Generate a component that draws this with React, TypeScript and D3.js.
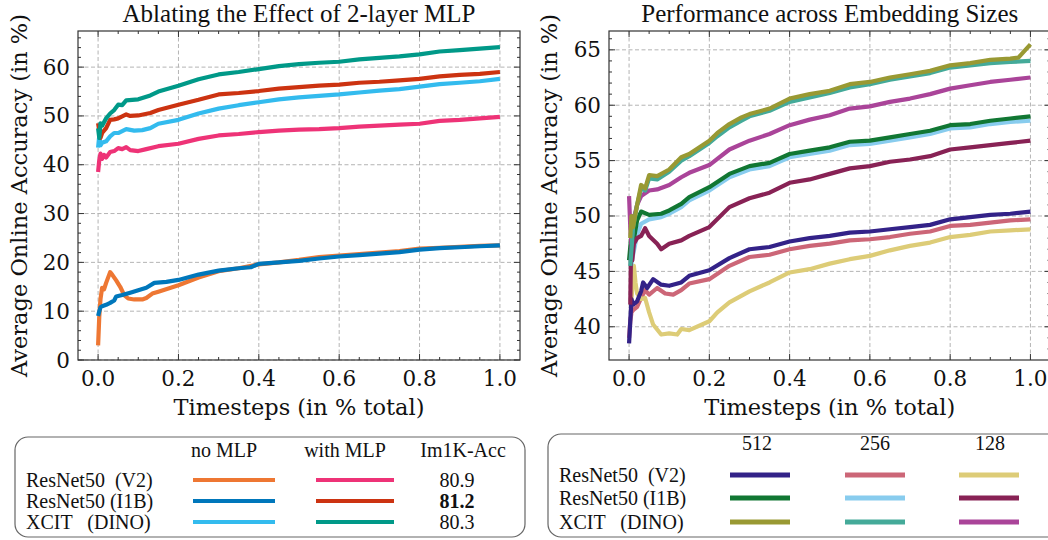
import React from "react";
import * as d3 from "d3";

type Pt = [number, number];

// ---------- Left panel: Ablating the Effect of 2-layer MLP ----------
const v2NoMlp: Pt[] = [[0,3],[0.003,9],[0.006,12.5],[0.01,14.8],[0.015,14.5],[0.02,15.8],[0.03,18],[0.035,17.5],[0.045,16.3],[0.055,15],[0.065,13.3],[0.075,12.6],[0.09,12.4],[0.11,12.4],[0.12,12.7],[0.135,13.6],[0.15,14],[0.2,15.3],[0.25,16.9],[0.3,18.2],[0.35,18.8],[0.4,19.6],[0.45,20],[0.5,20.5],[0.55,21.1],[0.6,21.4],[0.65,21.7],[0.7,22],[0.75,22.3],[0.8,22.8],[0.85,23],[0.9,23.2],[0.95,23.4],[1,23.5]];
const i1bNoMlp: Pt[] = [[0,9],[0.003,10],[0.006,10.8],[0.01,11],[0.02,11.3],[0.03,11.7],[0.04,12.2],[0.045,13],[0.06,13.3],[0.08,13.8],[0.1,14.3],[0.12,14.8],[0.14,15.8],[0.17,16],[0.2,16.4],[0.25,17.5],[0.3,18.3],[0.35,18.8],[0.38,19],[0.4,19.7],[0.45,20],[0.5,20.3],[0.55,20.8],[0.6,21.2],[0.65,21.5],[0.7,21.8],[0.75,22.1],[0.8,22.6],[0.85,22.9],[0.9,23.1],[0.95,23.3],[1,23.5]];
const xcitNoMlp: Pt[] = [[0,43.5],[0.003,46],[0.006,44],[0.01,44.5],[0.02,44.8],[0.03,45.8],[0.04,46.5],[0.05,46.5],[0.07,47.3],[0.09,47],[0.11,47.1],[0.13,47.5],[0.15,48.4],[0.2,49.2],[0.25,50.5],[0.3,51.5],[0.35,52.2],[0.4,52.8],[0.45,53.4],[0.5,53.8],[0.55,54.1],[0.6,54.4],[0.65,54.8],[0.7,55.2],[0.75,55.5],[0.8,56],[0.85,56.5],[0.9,56.8],[0.95,57.1],[1,57.6]];
const v2Mlp: Pt[] = [[0,38.5],[0.003,41],[0.006,42.3],[0.01,41.2],[0.015,42],[0.02,41.5],[0.03,42.6],[0.04,42.8],[0.05,43.4],[0.06,43.2],[0.07,43.6],[0.08,43],[0.1,42.8],[0.12,43.2],[0.15,43.8],[0.2,44.3],[0.25,45.3],[0.3,46],[0.35,46.3],[0.4,46.7],[0.45,47],[0.5,47.2],[0.55,47.3],[0.6,47.5],[0.65,47.8],[0.7,48],[0.75,48.2],[0.8,48.4],[0.85,49],[0.9,49.2],[0.95,49.5],[1,49.8]];
const i1bMlp: Pt[] = [[0,48.5],[0.003,47],[0.006,45.5],[0.01,46.5],[0.02,47.5],[0.03,49.2],[0.04,49.3],[0.05,49.5],[0.07,50.3],[0.08,50],[0.1,50.1],[0.13,50.6],[0.15,51.2],[0.2,52.3],[0.25,53.3],[0.3,54.4],[0.35,54.7],[0.4,55.1],[0.45,55.6],[0.5,55.9],[0.55,56.2],[0.6,56.4],[0.65,56.8],[0.7,57],[0.75,57.3],[0.8,57.6],[0.85,58.1],[0.9,58.4],[0.95,58.6],[1,59]];
const xcitMlp: Pt[] = [[0,47.5],[0.003,45.5],[0.006,48.5],[0.01,48],[0.02,49.5],[0.03,50.5],[0.04,51.2],[0.05,52.3],[0.06,52.2],[0.07,53.2],[0.1,53.4],[0.13,54.2],[0.15,55],[0.2,56.2],[0.25,57.5],[0.3,58.5],[0.35,59],[0.4,59.6],[0.45,60.2],[0.5,60.6],[0.55,60.9],[0.6,61.1],[0.65,61.6],[0.7,61.9],[0.75,62.2],[0.8,62.6],[0.85,63.2],[0.9,63.5],[0.95,63.8],[1,64.1]];

// ---------- Right panel: Performance across Embedding Sizes ----------
const v2_512: Pt[] = [[0,38.5],[0.003,40.5],[0.006,42.5],[0.01,42],[0.02,42.3],[0.03,43.2],[0.035,44],[0.045,43.5],[0.06,44.3],[0.08,43.8],[0.1,43.7],[0.13,44],[0.15,44.6],[0.2,45.1],[0.25,46.2],[0.3,47],[0.35,47.2],[0.4,47.7],[0.45,48],[0.5,48.2],[0.55,48.5],[0.6,48.6],[0.65,48.8],[0.7,49],[0.75,49.2],[0.8,49.7],[0.85,49.9],[0.9,50.1],[0.95,50.2],[1,50.4]];
const v2_256: Pt[] = [[0,39],[0.003,40.5],[0.006,41.3],[0.01,41.5],[0.02,41.8],[0.03,42.6],[0.04,43.3],[0.05,42.9],[0.07,43.5],[0.09,43],[0.11,42.9],[0.13,43.3],[0.15,43.9],[0.2,44.3],[0.25,45.5],[0.3,46.3],[0.35,46.5],[0.4,47],[0.45,47.3],[0.5,47.5],[0.55,47.8],[0.6,47.9],[0.65,48.1],[0.7,48.4],[0.75,48.6],[0.8,49.1],[0.85,49.2],[0.9,49.4],[0.95,49.6],[1,49.7]];
const v2_128: Pt[] = [[0.005,42],[0.012,45.5],[0.016,44],[0.02,43],[0.03,42.5],[0.04,42.6],[0.05,41.3],[0.06,40.2],[0.08,39.3],[0.1,39.4],[0.12,39.3],[0.13,39.8],[0.15,39.7],[0.2,40.5],[0.22,41.3],[0.25,42.2],[0.3,43.2],[0.35,44],[0.4,44.9],[0.45,45.2],[0.5,45.7],[0.55,46.1],[0.6,46.4],[0.65,46.9],[0.7,47.3],[0.75,47.6],[0.8,48.1],[0.85,48.3],[0.9,48.6],[0.95,48.7],[1,48.8]];
const i1b_512: Pt[] = [[0,46],[0.005,48],[0.01,47.5],[0.02,49.6],[0.03,50.4],[0.05,50.1],[0.08,50.2],[0.1,50.5],[0.13,51.1],[0.15,51.7],[0.2,52.6],[0.25,53.8],[0.3,54.5],[0.35,54.8],[0.4,55.6],[0.45,55.9],[0.5,56.2],[0.55,56.7],[0.6,56.8],[0.65,57.1],[0.7,57.4],[0.75,57.7],[0.8,58.2],[0.85,58.3],[0.9,58.6],[0.95,58.8],[1,59]];
const i1b_256: Pt[] = [[0.005,45.5],[0.01,46.5],[0.02,48.3],[0.03,49.3],[0.05,49.7],[0.08,49.9],[0.1,50.2],[0.13,50.8],[0.15,51.4],[0.2,52.3],[0.25,53.5],[0.3,54.2],[0.35,54.5],[0.4,55.3],[0.45,55.6],[0.5,55.9],[0.55,56.4],[0.6,56.5],[0.65,56.8],[0.7,57.1],[0.75,57.4],[0.8,57.9],[0.85,58],[0.9,58.3],[0.95,58.5],[1,58.6]];
const i1b_128: Pt[] = [[0.003,42],[0.006,50],[0.008,46],[0.012,47.5],[0.02,48],[0.03,48.2],[0.04,48.9],[0.05,48.2],[0.07,47.5],[0.08,47],[0.1,47.5],[0.13,47.8],[0.15,48.2],[0.2,49],[0.25,50.8],[0.3,51.6],[0.35,52.1],[0.4,53],[0.45,53.3],[0.5,53.8],[0.55,54.3],[0.6,54.5],[0.65,54.9],[0.7,55.1],[0.75,55.4],[0.8,56],[0.85,56.2],[0.9,56.4],[0.95,56.6],[1,56.8]];
const xcit_512: Pt[] = [[0.003,48],[0.006,50],[0.01,49],[0.02,51],[0.03,52.8],[0.04,52.5],[0.05,53.7],[0.07,53.6],[0.1,54.2],[0.13,55.3],[0.15,55.6],[0.2,56.8],[0.22,57.5],[0.25,58.3],[0.28,58.9],[0.3,59.2],[0.35,59.7],[0.4,60.6],[0.45,61],[0.5,61.3],[0.55,61.9],[0.6,62.1],[0.65,62.5],[0.7,62.8],[0.75,63.1],[0.8,63.6],[0.85,63.8],[0.9,64.1],[0.95,64.2],[0.97,64.3],[1,65.5]];
const xcit_256: Pt[] = [[0.003,45.5],[0.006,47],[0.01,49],[0.02,51],[0.03,52.5],[0.04,52.3],[0.05,53.4],[0.07,53.3],[0.1,54],[0.13,55],[0.15,55.4],[0.2,56.6],[0.22,57.2],[0.25,58],[0.28,58.6],[0.3,59],[0.35,59.5],[0.4,60.3],[0.45,60.7],[0.5,61.1],[0.55,61.6],[0.6,61.9],[0.65,62.3],[0.7,62.6],[0.75,62.9],[0.8,63.4],[0.85,63.6],[0.9,63.8],[0.95,63.9],[1,64]];
const xcit_128: Pt[] = [[0,51.8],[0.003,49],[0.006,47.5],[0.01,49.5],[0.02,51],[0.03,51.8],[0.05,52.3],[0.07,52.4],[0.1,52.8],[0.13,53.5],[0.15,53.9],[0.2,54.6],[0.25,56],[0.3,56.8],[0.35,57.4],[0.4,58.2],[0.45,58.7],[0.5,59.1],[0.55,59.7],[0.6,59.9],[0.65,60.3],[0.7,60.6],[0.75,61],[0.8,61.5],[0.85,61.8],[0.9,62.1],[0.95,62.3],[1,62.5]];

const xTicks = [0, 0.2, 0.4, 0.6, 0.8, 1.0];
const leftYTicks = [0, 10, 20, 30, 40, 50, 60];
const rightYTicks = [40, 45, 50, 55, 60, 65];

const leftTitle = "Ablating the Effect of 2-layer MLP";
const rightTitle = "Performance across Embedding Sizes";
const xLabel = "Timesteps (in % total)";
const yLabel = "Average Online Accuracy (in %)";

const rowNames = ["ResNet50  (V2)", "ResNet50 (I1B)", "XCIT   (DINO)"];
const leftHeaders = ["no MLP", "with MLP", "Im1K-Acc"];
const im1kAcc = ["80.9", "81.2", "80.3"];
const rightHeaders = ["512", "256", "128"];

const leftColorsNo = ["#EE7733", "#0077BB", "#33BBEE"];
const leftColorsMlp = ["#EE3377", "#CC3311", "#009988"];
const rightColors = [
  ["#332288", "#CC6677", "#DDCC77"],
  ["#117733", "#88CCEE", "#882255"],
  ["#999933", "#44AA99", "#AA4499"],
];

const leftSeries = [
  { d: v2NoMlp, c: leftColorsNo[0] },
  { d: i1bNoMlp, c: leftColorsNo[1] },
  { d: xcitNoMlp, c: leftColorsNo[2] },
  { d: v2Mlp, c: leftColorsMlp[0] },
  { d: i1bMlp, c: leftColorsMlp[1] },
  { d: xcitMlp, c: leftColorsMlp[2] },
];
const rightSeries = [
  { d: v2_256, c: rightColors[0][1] },
  { d: v2_128, c: rightColors[0][2] },
  { d: v2_512, c: rightColors[0][0] },
  { d: i1b_256, c: rightColors[1][1] },
  { d: i1b_512, c: rightColors[1][0] },
  { d: i1b_128, c: rightColors[1][2] },
  { d: xcit_128, c: rightColors[2][2] },
  { d: xcit_256, c: rightColors[2][1] },
  { d: xcit_512, c: rightColors[2][0] },
];

const SERIF_T = "'Liberation Serif', 'Times New Roman', serif";
const SERIF_D = "'DejaVu Serif', serif";
const SPINE = "#333";

type PanelProps = {
  id: string;
  x0: number; x1: number; yTop: number; yBot: number;
  yDomain: [number, number];
  yTicks: number[];
  yMinorStep: number;
  title: string;
  series: { d: Pt[]; c: string }[];
  yLabelX: number;
};

function Panel(p: PanelProps) {
  const xs = d3.scaleLinear().domain([-0.05, 1.05]).range([p.x0, p.x1]);
  const ys = d3.scaleLinear().domain(p.yDomain).range([p.yBot, p.yTop]);
  const line = d3.line<Pt>().x((d) => xs(d[0])).y((d) => ys(d[1]));
  const xMinor = d3.range(-0.05, 1.0501, 0.05).map((v) => Math.round(v * 100) / 100)
    .filter((v) => v > -0.05 && v < 1.05 && !xTicks.some((t) => Math.abs(t - v) < 1e-6));
  const yMinor = d3.range(Math.ceil(p.yDomain[0] / p.yMinorStep) * p.yMinorStep, p.yDomain[1], p.yMinorStep)
    .filter((v) => v > p.yDomain[0] && !p.yTicks.some((t) => Math.abs(t - v) < 1e-6));
  const grid = "#b4b4b4";
  const cx = (p.x0 + p.x1) / 2;
  const cy = (p.yTop + p.yBot) / 2;
  return (
    <g>
      <defs>
        <clipPath id={p.id}>
          <rect x={p.x0} y={p.yTop} width={p.x1 - p.x0} height={p.yBot - p.yTop} />
        </clipPath>
      </defs>
      {xTicks.map((t) => (
        <line key={"gx" + t} x1={xs(t)} x2={xs(t)} y1={p.yTop} y2={p.yBot} stroke={grid} strokeWidth={1} strokeDasharray="4,2.5" />
      ))}
      {p.yTicks.map((t) => (
        <line key={"gy" + t} x1={p.x0} x2={p.x1} y1={ys(t)} y2={ys(t)} stroke={grid} strokeWidth={1} strokeDasharray="4,2.5" />
      ))}
      <g clipPath={`url(#${p.id})`}>
        {p.series.map((s, i) => (
          <path key={i} d={line(s.d) || ""} fill="none" stroke={s.c} strokeWidth={4.2} strokeLinejoin="round" strokeLinecap="butt" />
        ))}
      </g>
      {xTicks.map((t) => (
        <g key={"tx" + t}>
          <line x1={xs(t)} x2={xs(t)} y1={p.yBot} y2={p.yBot - 6} stroke={SPINE} />
          <line x1={xs(t)} x2={xs(t)} y1={p.yTop} y2={p.yTop + 6} stroke={SPINE} />
          <text x={xs(t)} y={p.yBot + 26} textAnchor="middle" fontFamily={SERIF_D} fontSize={21.5} fill="#111">{t.toFixed(1)}</text>
        </g>
      ))}
      {xMinor.map((t) => (
        <g key={"mx" + t}>
          <line x1={xs(t)} x2={xs(t)} y1={p.yBot} y2={p.yBot - 3} stroke={SPINE} />
          <line x1={xs(t)} x2={xs(t)} y1={p.yTop} y2={p.yTop + 3} stroke={SPINE} />
        </g>
      ))}
      {p.yTicks.map((t) => (
        <g key={"ty" + t}>
          <line x1={p.x0} x2={p.x0 + 6} y1={ys(t)} y2={ys(t)} stroke={SPINE} />
          <line x1={p.x1} x2={p.x1 - 6} y1={ys(t)} y2={ys(t)} stroke={SPINE} />
          <text x={p.x0 - 8} y={ys(t) + 7.5} textAnchor="end" fontFamily={SERIF_D} fontSize={21.5} fill="#111">{t}</text>
        </g>
      ))}
      {yMinor.map((t) => (
        <g key={"my" + t}>
          <line x1={p.x0} x2={p.x0 + 3} y1={ys(t)} y2={ys(t)} stroke={SPINE} />
          <line x1={p.x1} x2={p.x1 - 3} y1={ys(t)} y2={ys(t)} stroke={SPINE} />
        </g>
      ))}
      <rect x={p.x0} y={p.yTop} width={p.x1 - p.x0} height={p.yBot - p.yTop} fill="none" stroke={SPINE} strokeWidth={1.2} />
      <text x={cx} y={p.yTop - 9} textAnchor="middle" fontFamily={SERIF_T} fontSize={25} fill="#111">{p.title}</text>
      <text x={cx} y={p.yBot + 55} textAnchor="middle" fontFamily={SERIF_D} fontSize={22.5} fill="#111">{xLabel}</text>
      <text transform={`translate(${p.yLabelX},${cy}) rotate(-90)`} textAnchor="middle" fontFamily={SERIF_D} fontSize={22.5} fill="#111">{yLabel}</text>
    </g>
  );
}

function LeftLegend() {
  const rowsY = [480, 501, 522];
  return (
    <g fontFamily={SERIF_T} fontSize={20} fill="#111">
      <rect x={15} y={437} width={510} height={100} rx={13} fill="white" stroke="#666" strokeWidth={1.2} />
      <text x={224} y={457} textAnchor="middle">{leftHeaders[0]}</text>
      <text x={345} y={457} textAnchor="middle">{leftHeaders[1]}</text>
      <text x={463} y={457} textAnchor="middle">{leftHeaders[2]}</text>
      {rowNames.map((n, i) => (
        <g key={n}>
          <text x={26} y={rowsY[i] + 7} style={{ whiteSpace: "pre" }}>{n}</text>
          <line x1={193} x2={275} y1={rowsY[i]} y2={rowsY[i]} stroke={leftColorsNo[i]} strokeWidth={4} />
          <line x1={316} x2={394} y1={rowsY[i]} y2={rowsY[i]} stroke={leftColorsMlp[i]} strokeWidth={4} />
          <text x={457} y={rowsY[i] + 7} textAnchor="middle" fontWeight={i === 1 ? "bold" : "normal"}>{im1kAcc[i]}</text>
        </g>
      ))}
    </g>
  );
}

function RightLegend() {
  const rowsY = [475, 498, 522];
  const colX = [[730, 790], [845, 905], [959, 1019]];
  const headX = [757, 875, 990];
  return (
    <g fontFamily={SERIF_T} fontSize={20} fill="#111">
      <rect x={548} y={434} width={520} height={103} rx={13} fill="white" stroke="#666" strokeWidth={1.2} />
      {rightHeaders.map((h, j) => (
        <text key={h} x={headX[j]} y={450} textAnchor="middle">{h}</text>
      ))}
      {rowNames.map((n, i) => (
        <g key={n}>
          <text x={559} y={rowsY[i] + 7} style={{ whiteSpace: "pre" }}>{n}</text>
          {colX.map((c, j) => (
            <line key={j} x1={c[0]} x2={c[1]} y1={rowsY[i]} y2={rowsY[i]} stroke={rightColors[i][j]} strokeWidth={5} />
          ))}
        </g>
      ))}
    </g>
  );
}

export default function App() {
  return (
    <svg width={1048} height={540} style={{ position: "absolute", left: 0, top: 0, background: "white" }}>
      <rect width={1048} height={540} fill="white" />
      <Panel id="clipL" x0={78} x1={520} yTop={31} yBot={360} yDomain={[0, 67.4]} yTicks={leftYTicks} yMinorStep={2} title={leftTitle} series={leftSeries} yLabelX={27} />
      <Panel id="clipR" x0={609} x1={1050.5} yTop={31} yBot={360} yDomain={[37.0, 66.7]} yTicks={rightYTicks} yMinorStep={1} title={rightTitle} series={rightSeries} yLabelX={557} />
      <LeftLegend />
      <RightLegend />
    </svg>
  );
}
